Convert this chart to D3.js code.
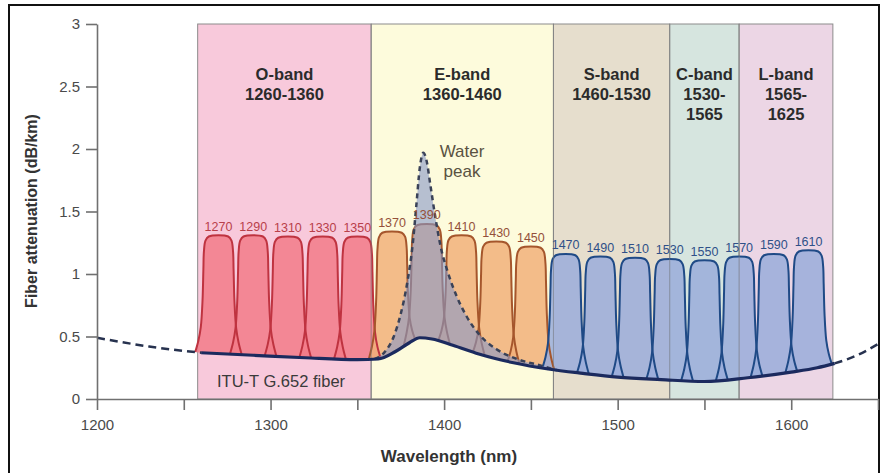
<!DOCTYPE html>
<html><head><meta charset="utf-8">
<script src="https://cdn.jsdelivr.net/npm/d3@7"></script>
<style>
html,body{margin:0;padding:0;background:#fff;}
svg{display:block;font-family:'Liberation Sans',Arial,sans-serif;}
</style></head><body>
<svg id="chart" width="881" height="473"></svg>
<script>
// ---------- data ----------
const bandNames = ["O-band","E-band","S-band","C-band","L-band"];
const bandRangeLines = [["1260-1360"],["1360-1460"],["1460-1530"],["1530-","1565"],["1565-","1625"]];
const bandStart = [1258,1358,1463,1530,1570];
const bandEnd   = [1358,1463,1530,1570,1624];

const channelWl  = [1270,1290,1310,1330,1350,1370,1390,1410,1430,1450,1470,1490,1510,1530,1550,1570,1590,1610];
const channelTop = [1.30,1.30,1.29,1.29,1.29,1.33,1.39,1.30,1.25,1.21,1.15,1.13,1.12,1.11,1.10,1.13,1.15,1.18];

const attenWl  = [1200,1230,1260,1290,1320,1350,1362,1372,1380,1386,1393,1405,1420,1440,1460,1480,1500,1525,1550,1575,1600,1615,1625,1638,1650];
const attenVal = [0.49,0.42,0.37,0.35,0.33,0.315,0.32,0.38,0.45,0.49,0.48,0.43,0.36,0.29,0.24,0.205,0.175,0.155,0.14,0.17,0.215,0.25,0.285,0.35,0.44];

const waterWl  = [1360,1366,1371,1375,1379,1382,1384,1386,1388,1390,1392,1395,1398,1402,1407,1413,1420,1430,1442,1455,1465];
const waterVal = [0.32,0.38,0.50,0.68,0.95,1.25,1.55,1.85,1.97,1.90,1.72,1.45,1.22,1.02,0.83,0.66,0.52,0.40,0.32,0.27,0.23];

const xTicks = [1200,1250,1300,1350,1400,1450,1500,1550,1600,1650];
const xTickLabels = ["1200","","1300","","1400","","1500","","1600",""];
const yTicks = [0,0.5,1,1.5,2,2.5,3];
const yTickLabels = ["0","0.5","1","1.5","2","2.5","3"];

// ---------- styles ----------
const bandFill = ["#f8c9db","#fdfbdc","#e6decd","#d6e5df","#ecd6e5"];
const groupFill   = {O:"#f27b88", E:"#f1b07a", B:"#9aaddb"};
const groupStroke = {O:"#bf3340", E:"#a5562c", B:"#1f4a86"};
const groupLabel  = {O:"#b8404a", E:"#94503a", B:"#2f5088"};
const condensed = "'Liberation Sans Narrow','Liberation Sans',Arial,sans-serif";

const svg = d3.select("#chart");
const x = d3.scaleLinear().domain([1200,1650]).range([97,878]);
const y = d3.scaleLinear().domain([0,3]).range([399,24]);
const attenAt = d3.scaleLinear().domain(attenWl).range(attenVal).clamp(true);

// frame
svg.append("rect").attr("x",9).attr("y",5).attr("width",870).attr("height",480)
  .attr("fill","#fff").attr("stroke","#111").attr("stroke-width",2);

// bands
const bands = bandNames.map((n,i)=>({n, lines:bandRangeLines[i], s:bandStart[i], e:bandEnd[i], c:bandFill[i]}));
svg.append("g").selectAll("rect").data(bands).join("rect")
  .attr("x",d=>x(d.s)).attr("y",y(3)).attr("width",d=>x(d.e)-x(d.s)).attr("height",y(0)-y(3))
  .attr("fill",d=>d.c).attr("stroke","#8c8c8c").attr("stroke-width",1);

const bl = svg.append("g").selectAll("text").data(bands).join("text")
  .attr("x",d=>(x(d.s)+x(d.e))/2).attr("y",80)
  .attr("text-anchor","middle").attr("font-weight","bold").attr("font-size",16.5)
  .attr("fill","#2b2b2b");
bl.each(function(d){
  const t=d3.select(this);
  [d.n].concat(d.lines).forEach((s,k)=>{
    t.append("tspan").attr("x",(x(d.s)+x(d.e))/2).attr("y",80+k*20).text(s);
  });
});

// channels
const groupOf = wl => wl < 1360 ? "O" : (wl < 1460 ? "E" : "B");
const profile = [[-13.4,0],[-11.6,0.1],[-10.2,0.22],[-9.2,0.45],[-8.7,0.72],[-8.4,0.87],[-7.5,0.965],[-5.6,1],[5.6,1],[7.5,0.965],[8.4,0.87],[8.7,0.72],[9.2,0.45],[10.2,0.22],[11.6,0.1],[13.4,0]];
const chLine = d3.line().curve(d3.curveCatmullRom.alpha(0.5));
const channels = channelWl.map((c,i)=>{
  const h = channelTop[i];
  const pts = profile.map(([d,t])=>{ const wl=c+d; const b=attenAt(wl); return [x(wl), y(b + t*(h-b))]; });
  const base = d3.range(c+13.4, c-13.41, -1).map(wl=>[x(wl), y(attenAt(wl))]);
  return {c, h, g:groupOf(c), pts, base};
});
const chG = svg.append("g");
chG.selectAll("path.fill").data(channels).join("path").attr("class","fill")
  .attr("d",d=>chLine(d.pts)+d3.line()(d.base).replace("M","L")+"Z")
  .attr("fill",d=>groupFill[d.g]).attr("fill-opacity",0.85).attr("stroke","none");
// band dividers visible through channels
svg.append("g").selectAll("line").data(bandStart.slice(1)).join("line")
  .attr("x1",d=>x(d)).attr("x2",d=>x(d)).attr("y1",y(3)).attr("y2",y(0))
  .attr("stroke","#7d7d7d").attr("stroke-opacity",0.55).attr("stroke-width",1);
chG.selectAll("path.stroke").data(channels).join("path").attr("class","stroke")
  .attr("d",d=>chLine(d.pts)).attr("fill","none").attr("stroke",d=>groupStroke[d.g]).attr("stroke-width",2);

// water peak
const water = waterWl.map((w,i)=>({w, v:waterVal[i]}));
const wArea = d3.area().curve(d3.curveMonotoneX)
  .x(d=>x(d.w)).y0(d=>y(attenAt(d.w))).y1(d=>y(Math.max(d.v, attenAt(d.w))));
svg.append("path").datum(water).attr("d",wArea).attr("fill","#8797c8").attr("fill-opacity",0.6);
svg.append("path").datum(water).attr("d",d3.line().curve(d3.curveMonotoneX).x(d=>x(d.w)).y(d=>y(d.v)))
  .attr("fill","none").attr("stroke","#3a4258").attr("stroke-width",2.5).attr("stroke-dasharray","5,4");

// attenuation curve
const atten = attenWl.map((w,i)=>({w, v:attenVal[i]}));
const aLine = d3.line().curve(d3.curveMonotoneX).x(d=>x(d.w)).y(d=>y(d.v));
const solid = atten.filter(d=>d.w>=1260 && d.w<=1625);
const left = atten.filter(d=>d.w<=1260);
const right = atten.filter(d=>d.w>=1625);
[left,right].forEach(seg=>svg.append("path").datum(seg).attr("d",aLine)
  .attr("fill","none").attr("stroke","#27324f").attr("stroke-width",2.5).attr("stroke-dasharray","8,5"));
svg.append("path").datum(solid).attr("d",aLine)
  .attr("fill","none").attr("stroke","#1b2a5e").attr("stroke-width",3.2);

// channel labels
svg.append("g").selectAll("text").data(channels).join("text")
  .attr("x",d=>x(d.c)).attr("y",d=>y(d.h)-6).attr("text-anchor","middle")
  .attr("font-family",condensed).attr("font-size",12.5).attr("fill",d=>groupLabel[d.g])
  .text(d=>d.c);

// annotations
svg.append("text").attr("x",462).attr("y",157).attr("text-anchor","middle")
  .attr("font-size",17).attr("fill","#5a5242").text("Water");
svg.append("text").attr("x",462).attr("y",177).attr("text-anchor","middle")
  .attr("font-size",17).attr("fill","#5a5242").text("peak");
svg.append("text").attr("x",217).attr("y",387)
  .attr("font-size",16.5).attr("fill","#3a3a3a").text("ITU-T G.652 fiber");

// axes
const xAxis = d3.axisBottom(x).tickValues(xTicks).tickFormat((d,i)=>xTickLabels[i])
  .tickSize(11).tickSizeOuter(0).tickPadding(9);
const gx = svg.append("g").attr("transform",`translate(0,${y(0)})`).call(xAxis);
const yAxis = d3.axisLeft(y).tickValues(yTicks).tickFormat((d,i)=>yTickLabels[i])
  .tickSize(11).tickSizeOuter(0).tickPadding(6);
const gy = svg.append("g").attr("transform",`translate(${x(1200)},0)`).call(yAxis);
[gx,gy].forEach(g=>{
  g.select(".domain").attr("stroke","#707070").attr("stroke-width",1.6);
  g.selectAll(".tick line").attr("stroke","#707070").attr("stroke-width",1.6);
  g.selectAll(".tick text").attr("fill","#4a4a4a").attr("font-size",15)
    .attr("font-family","'Liberation Sans',Arial,sans-serif");
});

// axis titles
svg.append("text").attr("x",449).attr("y",462).attr("text-anchor","middle")
  .attr("font-weight","bold").attr("font-size",17).attr("fill","#333").text("Wavelength (nm)");
svg.append("text").attr("transform","translate(37,211) rotate(-90)").attr("text-anchor","middle")
  .attr("font-weight","bold").attr("font-size",16).attr("fill","#333").text("Fiber attenuation (dB/km)");
</script></body></html>
